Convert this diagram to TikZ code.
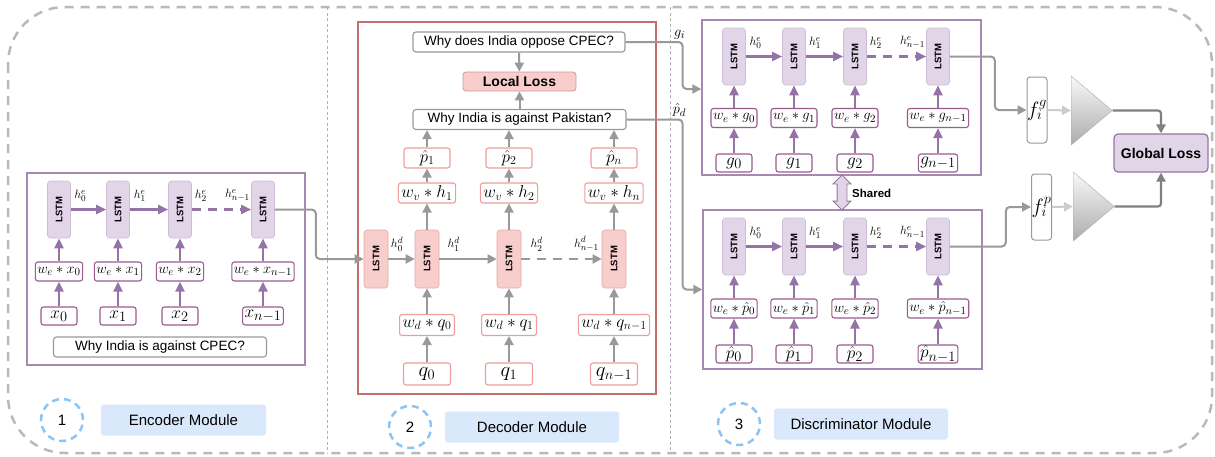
\documentclass[tikz,border=0pt]{standalone}
\usepackage[no-math]{fontspec}
\setmainfont{Liberation Sans}
\usetikzlibrary{arrows.meta,shapes.geometric,shapes.arrows}

\definecolor{lav}{HTML}{E1D5E7}
\definecolor{purp}{HTML}{9673A6}
\definecolor{plum}{HTML}{9B5B8E}
\definecolor{rose}{HTML}{F8CECC}
\definecolor{brick}{HTML}{B85450}
\definecolor{salmon}{HTML}{EE9D9A}
\definecolor{skyfill}{HTML}{DAE8FC}
\definecolor{skyline}{HTML}{8CC4F5}
\definecolor{wire}{HTML}{999999}

\newcommand{\lstmtxt}{\rotatebox{90}{\fontsize{9.5}{9.5}\selectfont\bfseries LSTM}}

\begin{document}
\begin{tikzpicture}[x=1pt, y=-1pt,
    lstm/.style={rounded corners=3pt, fill=lav, draw=lav!75!purp, line width=0.6pt, minimum width=23pt, minimum height=57pt, inner sep=0pt},
    declstm/.style={lstm, fill=rose, draw=rose!70!brick, minimum width=24pt, minimum height=58pt},
    encin/.style={draw=plum, fill=white, rounded corners=2.5pt, line width=1.1pt, minimum height=19pt, inner xsep=2pt, inner ysep=0pt, font=\fontsize{15}{17}\selectfont},
    decin/.style={encin, draw=salmon, inner xsep=3pt, minimum height=21pt, font=\fontsize{17}{19}\selectfont},
    wordin/.style={minimum width=36pt, minimum height=18pt, font=\fontsize{19}{21}\selectfont},
    sent/.style={draw=wire, fill=white, rounded corners=3pt, line width=1.1pt, minimum height=20pt, inner sep=0pt, font=\fontsize{13.5}{15}\selectfont},
    encbox/.style={draw=purp!85, line width=1.4pt, inner sep=0pt},
    decbox/.style={draw=brick!85, line width=1.6pt, inner sep=0pt},
    lossbox/.style={fill=rose, draw=brick!60, rounded corners=3pt, line width=0.8pt, minimum width=113pt, minimum height=19pt, font=\fontsize{14}{16}\selectfont\bfseries},
    glbox/.style={fill=lav, draw=purp, rounded corners=4pt, line width=1.2pt, minimum width=94pt, minimum height=38pt, font=\fontsize{14}{16}\selectfont\bfseries},
    fbox/.style={draw=wire, fill=white, rounded corners=3pt, line width=1pt, minimum width=20pt, minimum height=66pt, inner sep=0pt, font=\fontsize{20}{22}\selectfont},
    tri/.style={isosceles triangle, isosceles triangle stretches, minimum width=69pt, minimum height=41pt, inner sep=0pt, draw=gray!65, top color=gray!5, bottom color=gray!65},
    sharearrow/.style={double arrow, rotate=90, fill=lav, draw=purp, line width=0.8pt, minimum height=35pt, inner sep=4.5pt, double arrow head extend=4pt},
    hlab/.style={above=7pt, inner sep=0pt, font=\fontsize{13}{15}\selectfont},
    wlab/.style={anchor=south, xshift=-3pt, yshift=1pt, inner sep=1pt, font=\fontsize{15}{17}\selectfont},
    numcircle/.style={circle, draw=skyline, fill=white, line width=2.5pt, dash pattern=on 7pt off 5pt, minimum size=42pt, inner sep=0pt, font=\fontsize{15}{17}\selectfont},
    modbox/.style={fill=skyfill, draw=blue!12, densely dotted, rounded corners=3pt, minimum height=31pt, font=\fontsize{15}{17}\selectfont},
    purparrow/.style={draw=purp, line width=2.2pt, -{Triangle[length=10pt,width=9pt]}},
    grayarrow/.style={draw=wire, line width=2pt, rounded corners=4pt, -{Triangle[length=9pt,width=9pt]}},
    lightarrow/.style={draw=gray!40, line width=2pt, -{Triangle[length=9pt,width=9pt]}},
    darkarrow/.style={draw=black!50, line width=2.2pt, rounded corners=3pt, -{Triangle[length=9pt,width=9pt]}},
    dashedarrow/.style={dash pattern=on 9pt off 7pt},
  ]
  \useasboundingbox (0,0) rectangle (1215,456);

  % Outer frame and module separators
  \draw[draw=gray!55, line width=2.5pt, dash pattern=on 9pt off 7pt, rounded corners=57pt] (8,7) rectangle (1212,453);
  \draw[draw=gray!60, line width=0.7pt, dash pattern=on 3pt off 2.5pt] (327,7) -- (327,453);
  \draw[draw=gray!60, line width=0.7pt, dash pattern=on 3pt off 2.5pt] (670,7) -- (670,453);

  % Encoder module
  \node[encbox, minimum width=278pt, minimum height=192pt] (enc) at (166,269) {};
  \foreach \i/\cx/\lab in {0/59/0, 1/118/1, 2/180/2, 3/263/{n-1}} {
    \node[lstm] (E\i) at (\cx,209.5) {\lstmtxt};
    \node[encin] (EW\i) at (\cx,271.5) {$w_e * x_{\lab}$};
    \node[encin, wordin] (EX\i) at (\cx,316) {$x_{\lab}$};
    \draw[purparrow] (EX\i) -- (EW\i);
    \draw[purparrow] (EW\i) -- (E\i);
  }
  \draw[purparrow] (E0) -- node[hlab, pos=0.27] {$h_0^e$} (E1);
  \draw[purparrow] (E1) -- node[hlab, pos=0.26] {$h_1^e$} (E2);
  \draw[purparrow, dashedarrow] (E2) -- node[hlab, pos=0.15] {$h_2^e$} node[hlab, pos=0.77] {$h_{n-1}^e$} (E3);
  \node[sent, minimum width=213pt] (src) at (160,347) {Why India is against CPEC?};

  % Decoder module
  \node[decbox, minimum width=298pt, minimum height=372pt] (dec) at (507,208) {};
  \node[sent, minimum width=212pt] (gen) at (519,42) {Why does India oppose CPEC?};
  \node[lossbox] (local) at (519.5,81.5) {Local Loss};
  \node[sent, minimum width=213pt] (pak) at (519.5,119.5) {Why India is against Pakistan?};
  \draw[grayarrow] (gen) -- (local);
  \draw[grayarrow] (pak) -- (local);
  \node[declstm] (D0) at (376,259) {\lstmtxt};
  \foreach \i/\cx/\lab/\k in {1/427/0/1, 2/509/1/2, 3/614/{n-1}/n} {
    \node[declstm] (D\i) at (\cx,259) {\lstmtxt};
    \node[decin] (DW\i) at (\cx,325) {$w_d * q_{\lab}$};
    \node[decin, wordin, minimum width=47pt, minimum height=22pt, font=\fontsize{20}{22}\selectfont] (DQ\i) at (\cx,374) {$q_{\lab}$};
    \node[decin, minimum height=20pt] (DV\i) at (\cx,193) {$w_v * h_{\k}$};
    \node[decin, wordin, minimum width=46pt, minimum height=20pt, font=\fontsize{18}{20}\selectfont] (DP\i) at (\cx,158) {$\hat{p}_{\k}$};
    \draw[grayarrow] (DQ\i) -- (DW\i);
    \draw[grayarrow] (DW\i) -- (D\i);
    \draw[grayarrow] (D\i) -- (DV\i);
    \draw[grayarrow] (DV\i) -- (DP\i);
    \draw[grayarrow] (DP\i) -- (DP\i |- pak.south);
  }
  \draw[grayarrow] (D0) -- node[hlab, pos=0.33] {$h_0^d$} (D1);
  \draw[grayarrow] (D1) -- node[hlab, pos=0.25] {$h_1^d$} (D2);
  \draw[grayarrow, dashedarrow] (D2) -- node[hlab, pos=0.19] {$h_2^d$} node[hlab, pos=0.81] {$h_{n-1}^d$} (D3);

  % Encoder output into the decoder
  \draw[grayarrow] (E3.east) -- ++(41,0) |- (D0.west);

  % Discriminator module, one row for the ground truth and one for the generated question
  \node[encbox, minimum width=279pt, minimum height=155pt] (DT) at (841.5,97.5) {};
  \node[encbox, minimum width=279pt, minimum height=159pt] (DB) at (842.5,289.5) {};
  \foreach \row/\ly/\wy/\iy/\sym in {T/56.5/118/163/g, B/246.5/308.5/354/\hat{p}} {
    \foreach \i/\cx/\lab in {0/734/0, 1/794/1, 2/855/2, 3/938/{n-1}} {
      \node[lstm] (\row\i) at (\cx,\ly) {\lstmtxt};
      \node[encin] (\row W\i) at (\cx,\wy) {$w_e * \sym_{\lab}$};
      \node[encin, wordin] (\row I\i) at (\cx,\iy) {$\sym_{\lab}$};
      \draw[purparrow] (\row I\i) -- (\row W\i);
      \draw[purparrow] (\row W\i) -- (\row\i);
    }
    \draw[purparrow] (\row0) -- node[hlab, pos=0.27] {$h_0^e$} (\row1);
    \draw[purparrow] (\row1) -- node[hlab, pos=0.25] {$h_1^e$} (\row2);
    \draw[purparrow, dashedarrow] (\row2) -- node[hlab, pos=0.15] {$h_2^e$} node[hlab, pos=0.77] {$h_{n-1}^e$} (\row3);
  }
  \node[sharearrow] (share) at (842,192.5) {};
  \node[anchor=west, inner sep=0pt, font=\fontsize{11.5}{13}\selectfont\bfseries] (sharelab) at (852,193) {Shared};

  % Questions into the discriminator
  \draw[grayarrow] (gen.east) -- ++(57,0) node[wlab] {$g_i$} |- ([yshift=8.5pt]DT.west);
  \draw[grayarrow] (pak.east) -- ++(56,0) node[wlab] {$\hat{p}_d$} |- (DB.west);

  % Features, classifiers and global loss
  \node[fbox] (fg) at (1037,110) {$f_i^g$};
  \node[fbox] (fp) at (1041.5,207) {$f_i^p$};
  \draw[grayarrow] (T3.east) -- ++(45,0) |- (fg.west);
  \draw[grayarrow] (B3.east) -- ++(56,0) |- (fp.west);
  \node[tri, anchor=lower side] (tg) at (1071,110.5) {};
  \node[tri, anchor=lower side] (tp) at (1073,206.5) {};
  \draw[lightarrow] (fg.east) -- (tg.lower side);
  \draw[lightarrow] (fp.east) -- (tp.lower side);
  \node[glbox] (gl) at (1161,153) {Global Loss};
  \draw[darkarrow] (tg.apex) -| (gl.north);
  \draw[darkarrow] (tp.apex) -| (gl.south);

  % Module captions
  \foreach \m/\cx/\cy/\bx/\w/\txt in {1/62/420/183.5/165/Encoder Module, 2/410/427/532/174/Decoder Module, 3/739/424/861/174/Discriminator Module} {
    \node[numcircle] (N\m) at (\cx,\cy) {\m};
    \node[modbox, minimum width=\w pt] (M\m) at (\bx,\cy) {\txt};
  }

\end{tikzpicture}
\end{document}
